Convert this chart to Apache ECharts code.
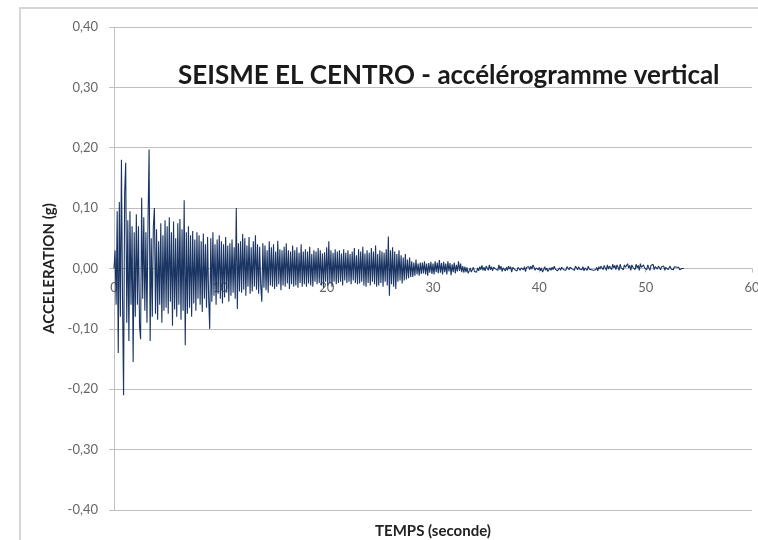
<!DOCTYPE html>
<html>
<head>
<meta charset="utf-8">
<script src="https://cdn.jsdelivr.net/npm/echarts@6/dist/echarts.min.js"></script>
<style>
html,body{margin:0;padding:0;background:#fff;}
#chart{width:758px;height:540px;}
</style>
</head>
<body>
<div id="chart"></div>
<script>
// ---- Data ----
const chartTitle = 'SEISME EL CENTRO - accélérogramme vertical';
const xTitle = 'TEMPS (seconde)';
const yTitle = 'ACCELERATION (g)';
const xTicks = [0, 10, 20, 30, 40, 50, 60];
const yTicks = [-0.40, -0.30, -0.20, -0.10, 0.00, 0.10, 0.20, 0.30, 0.40];
const sampleStep = 0.1; // seconds between samples
// acceleration (g), one row per second
const accel = [
  0.000, 0.030, -0.060, 0.095, -0.140, 0.110, -0.080, 0.180, -0.050, -0.210,
  0.125, 0.175, -0.090, 0.080, -0.120, 0.095, -0.060, 0.070, -0.155, 0.060,
  -0.080, 0.090, -0.060, 0.070, -0.095, -0.117, 0.117, -0.050, 0.085, -0.070,
  0.060, -0.090, 0.080, 0.197, -0.120, 0.050, -0.080, 0.070, 0.100, -0.075,
  0.065, -0.085, 0.045, -0.060, 0.075, -0.090, 0.055, -0.070, 0.080, -0.065,
  0.070, -0.075, 0.085, -0.055, 0.060, -0.095, 0.078, -0.068, 0.050, -0.080,
  0.075, -0.060, 0.082, -0.085, 0.065, -0.070, 0.113, -0.127, 0.060, -0.075,
  0.070, -0.065, 0.055, -0.080, 0.062, -0.058, 0.048, -0.070, 0.060, -0.050,
  0.055, -0.060, 0.045, -0.072, 0.058, -0.050, 0.040, -0.065, 0.052, -0.048,
  -0.100, 0.050, -0.055, 0.060, -0.045, 0.040, -0.060, 0.048, -0.042, 0.055,
  -0.050, 0.045, -0.058, 0.040, -0.048, 0.052, -0.040, 0.038, -0.055, 0.042,
  -0.045, 0.048, -0.040, 0.035, -0.050, 0.100, -0.067, 0.042, -0.038, 0.045,
  -0.040, 0.057, -0.035, 0.050, -0.045, 0.038, -0.030, 0.052, -0.042, 0.035,
  -0.038, 0.045, -0.030, 0.055, -0.035, 0.040, -0.042, 0.036, -0.028, -0.055,
  0.042, -0.032, 0.038, -0.036, 0.030, -0.040, 0.045, -0.028, 0.035, -0.030,
  0.040, -0.034, 0.028, -0.030, 0.046, -0.026, 0.032, -0.036, 0.030, -0.028,
  0.036, -0.030, 0.042, -0.025, 0.030, -0.034, 0.028, -0.026, 0.038, -0.030,
  0.030, -0.028, 0.035, -0.032, 0.026, -0.024, 0.040, -0.030, 0.028, -0.026,
  0.032, -0.030, 0.028, -0.025, 0.036, -0.028, 0.024, -0.030, 0.030, -0.022,
  0.028, -0.026, 0.034, -0.024, 0.030, -0.028, 0.025, -0.032, 0.027, -0.022,
  0.035, -0.028, 0.045, -0.025, 0.030, -0.030, 0.026, -0.022, 0.032, -0.026,
  0.028, -0.024, 0.030, -0.022, 0.025, -0.028, 0.032, -0.020, 0.026, -0.024,
  0.030, -0.022, 0.024, -0.026, 0.028, -0.020, 0.034, -0.024, 0.022, -0.026,
  0.032, -0.025, 0.028, -0.022, 0.036, -0.028, 0.025, -0.030, 0.030, -0.024,
  0.026, -0.028, 0.034, -0.022, 0.028, -0.026, 0.038, -0.030, 0.024, -0.028,
  0.030, -0.024, 0.028, -0.030, 0.026, -0.022, 0.032, -0.028, 0.053, -0.045,
  0.030, -0.026, 0.035, -0.030, 0.028, -0.034, 0.024, -0.022, 0.030, -0.020,
  0.022, -0.025, 0.018, -0.020, 0.024, -0.018, 0.015, -0.016, 0.018, -0.014,
  0.012, -0.014, 0.010, -0.012, 0.015, -0.010, 0.008, -0.012, 0.010, -0.009,
  0.010, -0.008, 0.012, -0.010, 0.008, -0.012, 0.009, -0.007, 0.011, -0.009,
  0.008, -0.010, 0.012, -0.006, 0.010, -0.008, 0.014, -0.007, 0.009, -0.010,
  0.011, -0.006, 0.008, -0.010, 0.012, -0.005, 0.009, -0.011, 0.007, -0.006,
  0.010, -0.008, 0.006, -0.005, 0.012, -0.004, 0.008, -0.006, 0.004, -0.007,
  0.003, -0.006, 0.002, -0.008, -0.004, 0.001, -0.006, -0.003, 0.002, -0.005,
  -0.002, -0.006, 0.001, -0.004, 0.003, -0.002, 0.005, -0.003, 0.002, -0.004,
  0.004, 0.001, -0.003, 0.006, -0.002, 0.003, -0.004, 0.002, 0.005, -0.001,
  0.002, -0.003, 0.006, -0.002, 0.004, -0.005, 0.001, 0.003, -0.004, 0.002,
  -0.003, 0.004, -0.001, 0.003, -0.006, 0.002, 0.005, -0.002, 0.001, -0.004,
  0.002, 0.005, -0.003, 0.001, 0.004, -0.002, 0.003, -0.005, 0.002, 0.000,
  0.003, -0.002, 0.004, -0.001, 0.006, 0.002, -0.003, 0.001, 0.003, -0.002,
  0.002, -0.004, 0.001, -0.006, -0.002, 0.003, -0.003, 0.001, -0.005, -0.002,
  0.001, -0.003, 0.002, -0.002, 0.004, -0.001, 0.002, -0.004, -0.002, 0.001,
  -0.003, 0.002, 0.004, -0.002, 0.001, -0.003, 0.003, 0.000, -0.002, 0.002,
  0.003, -0.001, 0.002, -0.003, 0.004, 0.001, -0.002, 0.003, -0.001, 0.002,
  -0.002, 0.003, -0.004, 0.001, 0.002, -0.003, 0.004, -0.001, 0.002, -0.002,
  0.001, -0.003, -0.005, -0.002, 0.002, -0.004, 0.003, -0.001, 0.004, 0.002,
  -0.002, 0.005, 0.001, -0.003, 0.006, -0.001, 0.004, 0.002, -0.002, 0.007,
  0.001, 0.005, -0.002, 0.006, 0.002, -0.003, 0.007, 0.001, 0.004, -0.002,
  0.006, 0.002, -0.001, 0.008, 0.001, 0.005, -0.003, 0.006, 0.002, 0.004,
  -0.002, 0.007, 0.001, 0.005, -0.003, 0.008, 0.002, -0.001, 0.006, 0.001,
  0.004, -0.002, 0.006, 0.001, -0.003, 0.005, 0.002, 0.007, -0.002, 0.003,
  0.005, -0.001, 0.004, 0.001, -0.002, 0.003, 0.000, 0.004, -0.003, 0.002,
  0.003, -0.002, 0.001, 0.004, -0.001, 0.002, -0.002, 0.003, 0.000, 0.002,
  -0.001, 0.002, -0.002, 0.001, 0.000, 0.001, 0.000
];

// ---- Build chart ----
const seriesData = accel.map((v, i) => [+(i * sampleStep).toFixed(1), v]);
const fmtComma = v => v.toFixed(2).replace('.', ',');
const gridCol = '#bfbfbf';
const fontFam = 'Lato, "Open Sans", sans-serif';
const gridTop = 27, gridBottom = 30, chartH = 540;
// place the horizontal axis where y = 0 sits (middle of the symmetric value range)
const zeroOffset = -(chartH - gridTop - gridBottom) / 2;

const chart = echarts.init(document.getElementById('chart'), null, {renderer: 'canvas'});
chart.setOption({
  animation: false,
  backgroundColor: '#ffffff',
  title: {
    text: chartTitle,
    left: 173,
    top: 58,
    textStyle: {fontFamily: fontFam, fontSize: 26, fontWeight: 'bold', color: '#1a1a1a'}
  },
  graphic: [{
    type: 'rect', silent: true, z: -10,
    shape: {x: 20, y: 8, width: 800, height: 600},
    style: {fill: 'none', stroke: '#d6d6d6', lineWidth: 2}
  }],
  grid: {left: 114, right: 6, top: gridTop, bottom: gridBottom, containLabel: false, outerBoundsMode: 'none'},
  xAxis: {
    type: 'value',
    position: 'bottom',
    offset: zeroOffset,
    min: xTicks[0], max: xTicks[xTicks.length - 1], interval: 10,
    name: xTitle, nameLocation: 'middle', nameGap: 255,
    nameTextStyle: {fontFamily: fontFam, fontSize: 15, fontWeight: 'bold', color: '#222'},
    axisLine: {onZero: false, lineStyle: {color: gridCol, width: 1}},
    axisTick: {show: true, length: 4, lineStyle: {color: gridCol}},
    axisLabel: {margin: 13, fontFamily: fontFam, fontSize: 13, color: '#666'},
    splitLine: {show: false}
  },
  yAxis: {
    type: 'value',
    min: yTicks[0], max: yTicks[yTicks.length - 1], interval: 0.1,
    name: yTitle, nameLocation: 'middle', nameGap: 57, nameRotate: 90,
    nameTextStyle: {fontFamily: fontFam, fontSize: 15, fontWeight: 'bold', color: '#222'},
    axisLine: {show: true, onZero: false, lineStyle: {color: gridCol, width: 1}},
    axisTick: {show: true, length: 5, lineStyle: {color: gridCol}},
    axisLabel: {margin: 16, fontFamily: fontFam, fontSize: 13, color: '#666', formatter: fmtComma},
    splitLine: {show: true, lineStyle: {color: gridCol, width: 1}}
  },
  series: [{
    type: 'line',
    data: seriesData,
    showSymbol: false,
    sampling: null,
    lineStyle: {color: '#1a3563', width: 1.1},
    z: 3
  }]
});
</script>
</body>
</html>
